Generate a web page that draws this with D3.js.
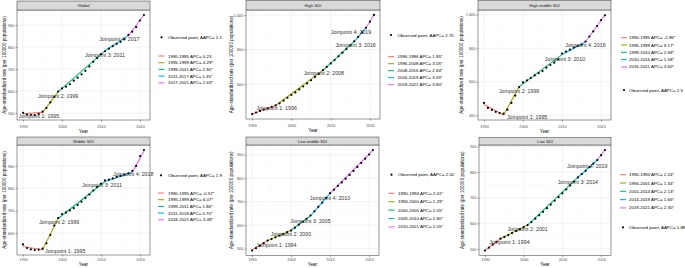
<!DOCTYPE html>
<html>
<head>
<meta charset="utf-8">
<script src="https://cdn.jsdelivr.net/npm/d3@7"></script>
<style>
body { margin: 0; background: #fff; }
svg { display: block; }
svg text { font-family: "Liberation Sans", Arial, sans-serif; }
</style>
</head>
<body>
<svg id="chart" width="685" height="268"></svg>
<script>
// ---- data ----
var years = [1990, 1991, 1992, 1993, 1994, 1995, 1996, 1997, 1998, 1999, 2000, 2001, 2002, 2003, 2004, 2005,
             2006, 2007, 2008, 2009, 2010, 2011, 2012, 2013, 2014, 2015, 2016, 2017, 2018, 2019, 2020, 2021];
var panelNames = ['Global', 'High SDI', 'High-middle SDI', 'Middle SDI', 'Low-middle SDI', 'Low SDI'];
var aapc = ['2.1', '2.75', '2.5', '1.9', '2.02', '1.88'];

var obsGlobal = [501, 493, 492, 491, 496, 506, 523, 548, 574, 598, 612, 620, 631, 647, 661, 676,
                 692, 712, 733, 750, 768, 781, 793, 804, 815, 824, 836, 856, 870, 891, 921, 946];
var obsHigh = [428, 437, 446, 454, 461, 469, 478, 490, 506, 522, 538, 553, 570, 587, 605, 623,
               642, 660, 681, 700, 720, 740, 761, 782, 803, 825, 848, 873, 900, 926, 962, 1000];
var obsHighMiddle = [474, 444, 432, 421, 414, 410, 434, 474, 518, 568, 596, 608, 622, 638, 652, 664,
                     684, 700, 714, 734, 768, 780, 792, 804, 814, 822, 840, 870, 900, 932, 968, 996];
var obsMiddle = [549, 533, 527, 524, 526, 530, 554, 591, 633, 667, 685, 692, 701, 711, 725, 740,
                 756, 772, 790, 806, 821, 835, 839, 844, 851, 855, 861, 867, 878, 900, 944, 971];
var obsLowMiddle = [492, 502, 512, 523, 534, 541, 548, 555, 562, 570, 577, 589, 602, 614, 627, 641,
                    659, 678, 696, 716, 736, 751, 767, 782, 798, 814, 831, 848, 865, 883, 901, 920];
var obsLow = [494, 505, 517, 528, 540, 547, 554, 562, 570, 577, 585, 593, 605, 618, 631, 645,
              659, 673, 688, 702, 717, 732, 748, 763, 779, 792, 805, 819, 833, 847, 866, 886];

// segment end years and fitted values at them
var segGlobal = [1990, 1995, 1999, 2011, 2017, 2021];
var fitGlobal = [497, 503, 596, 783, 852, 946];
var segHigh = [1990, 1996, 2008, 2016, 2019, 2021];
var fitHigh = [428, 477, 680, 848, 926, 1000];
var segHighMiddle = [1990, 1995, 1999, 2010, 2016, 2021];
var fitHighMiddle = [465, 402, 571, 762, 837, 998];
var segMiddle = [1990, 1995, 1999, 2011, 2018, 2021];
var fitMiddle = [540, 525, 665, 830, 871, 966];
var segLowMiddle = [1990, 1994, 2000, 2005, 2010, 2021];
var fitLowMiddle = [494, 535, 578, 640, 735, 919];
var segLow = [1990, 1994, 2001, 2014, 2019, 2021];
var fitLow = [494, 540, 593, 779, 847, 886];

var apcGlobal = ['0.23', '4.29*', '2.30*', '1.45*', '2.63*'];
var apcHigh = ['1.85*', '3.05*', '2.84*', '3.05*', '3.80*'];
var apcHighMiddle = ['-2.86*', '9.17*', '2.68*', '1.58*', '3.60*'];
var apcMiddle = ['-0.57*', '6.07*', '1.86*', '0.70*', '3.48*'];
var apcLowMiddle = ['2.01*', '1.29*', '2.05*', '2.80*', '2.05*'];
var apcLow = ['2.24*', '1.34*', '2.13*', '1.66*', '2.30*'];

var yTicksGlobal = [500, 600, 700, 800, 900];
var yTicksHigh = [600, 800, 1000];
var yTicksHighMiddle = [400, 600, 800, 1000];
var yTicksMiddle = [600, 700, 800, 900];
var yTicksLowMiddle = [500, 600, 700, 800, 900];
var yTicksLow = [500, 600, 700, 800, 900];
var xTicks = [1990, 2000, 2010, 2020];

var segColors = ['#F8766D', '#A3A500', '#00BF7D', '#00B0F6', '#E76BF3'];

var panels = [
  {obs: obsGlobal, seg: segGlobal, fit: fitGlobal, apc: apcGlobal, ticks: yTicksGlobal},
  {obs: obsHigh, seg: segHigh, fit: fitHigh, apc: apcHigh, ticks: yTicksHigh},
  {obs: obsHighMiddle, seg: segHighMiddle, fit: fitHighMiddle, apc: apcHighMiddle, ticks: yTicksHighMiddle},
  {obs: obsMiddle, seg: segMiddle, fit: fitMiddle, apc: apcMiddle, ticks: yTicksMiddle},
  {obs: obsLowMiddle, seg: segLowMiddle, fit: fitLowMiddle, apc: apcLowMiddle, ticks: yTicksLowMiddle},
  {obs: obsLow, seg: segLow, fit: fitLow, apc: apcLow, ticks: yTicksLow}
];

// ---- layout of each small plot (pixels) ----
// tp: tick label padding, yt: distance of "Year" below the panel
var layout = [
  {x0: 17, x1: 150, st: 1, y0: 10, y1: 120, tp: 3.4, yt: 11.6, tx: 4, kx: 161.5, lx: 168, obsY: 37.3, iy: 56, idy: 6.7,
   off: [[-3.5, 4], [0, 4.5], [0, 4], [-9, 3.5]]},
  {x0: 246, x1: 380, st: 0.5, y0: 10, y1: 119, tp: 3.4, yt: 11.6, tx: 231, kx: 391, lx: 397.5, obsY: 35, iy: 56.7, idy: 7,
   off: [[1, 2.5], [1, 2.5], [1.4, 4], [-15, 4.6]]},
  {x0: 478, x1: 611, st: 0.5, y0: 10, y1: 120, tp: 3.4, yt: 11.6, tx: 461, kx: 624, lx: 629, obsY: 90, iy: 37.7, idy: 7.3,
   off: [[23.6, 2.3], [0, 4.5], [3, 4], [0, 3]]},
  {x0: 17, x1: 150, st: 137, y0: 145, y1: 255, tp: 1.8, yt: 9.6, tx: 4, kx: 161, lx: 168, obsY: 175.3, iy: 193, idy: 6.7,
   off: [[22.7, 1.5], [1, 4], [-3, 3.7], [1, 1.5]]},
  {x0: 246, x1: 379, st: 137, y0: 145, y1: 255.5, tp: 1.8, yt: 9.4, tx: 231, kx: 391.5, lx: 398, obsY: 174.7, iy: 193.3, idy: 8.4,
   off: [[8.7, 5], [0, 3.6], [0, 5], [0, 5]]},
  {x0: 479, x1: 611, st: 137.5, y0: 145, y1: 255.5, tp: 1.8, yt: 9.4, tx: 462, kx: 623, lx: 629, obsY: 227.3, iy: 174.7, idy: 8.3,
   off: [[9, 3.5], [0, 4], [0, 5], [-10, 6]]}
];

var svg = d3.select('#chart');

panels.forEach(function(p, i) {
  var L = layout[i];
  var g = svg.append('g');

  var x = d3.scaleLinear().domain([1988.45, 2022.55]).range([L.x0, L.x1]);
  var all = p.obs.concat(p.fit);
  var lo = d3.min(all), hi = d3.max(all), pad = (hi - lo) * 0.05;
  var y = d3.scaleLinear().domain([lo - pad, hi + pad]).range([L.y1, L.y0]);

  // grid
  var step = p.ticks[1] - p.ticks[0];
  var yMinor = p.ticks.map(d => d - step / 2).concat([p.ticks[p.ticks.length - 1] + step / 2])
    .filter(d => d > y.domain()[0] && d < y.domain()[1]);
  var xMinor = [1995, 2005, 2015];
  g.selectAll('.xminor').data(xMinor).enter().append('line')
    .attr('x1', d => x(d)).attr('x2', d => x(d)).attr('y1', L.y0).attr('y2', L.y1)
    .attr('stroke', '#F2F2F2').attr('stroke-width', 0.3);
  g.selectAll('.yminor').data(yMinor).enter().append('line')
    .attr('x1', L.x0).attr('x2', L.x1).attr('y1', d => y(d)).attr('y2', d => y(d))
    .attr('stroke', '#F2F2F2').attr('stroke-width', 0.3);
  g.selectAll('.xmajor').data(xTicks).enter().append('line')
    .attr('x1', d => x(d)).attr('x2', d => x(d)).attr('y1', L.y0).attr('y2', L.y1)
    .attr('stroke', '#EBEBEB').attr('stroke-width', 0.6);
  g.selectAll('.ymajor').data(p.ticks).enter().append('line')
    .attr('x1', L.x0).attr('x2', L.x1).attr('y1', d => y(d)).attr('y2', d => y(d))
    .attr('stroke', '#EBEBEB').attr('stroke-width', 0.6);

  // fitted joinpoint segments
  for (var k = 0; k < p.seg.length - 1; k++) {
    g.append('line')
      .attr('x1', x(p.seg[k])).attr('y1', y(p.fit[k]))
      .attr('x2', x(p.seg[k + 1])).attr('y2', y(p.fit[k + 1]))
      .attr('stroke', segColors[k]).attr('stroke-width', 1.1);
  }

  // observed points
  g.selectAll('circle.obs').data(p.obs).enter().append('circle')
    .attr('cx', (d, j) => x(years[j])).attr('cy', d => y(d))
    .attr('r', 1.1).attr('fill', '#000');

  // joinpoint labels
  for (var k = 1; k < p.seg.length - 1; k++) {
    var o = L.off[k - 1];
    g.append('text')
      .attr('x', x(p.seg[k]) + o[0]).attr('y', y(p.fit[k]) + o[1])
      .attr('text-anchor', 'middle').attr('dominant-baseline', 'central')
      .attr('font-size', 5.3).attr('fill', '#333')
      .text('Joinpoint ' + k + ': ' + p.seg[k]);
  }

  // panel border and strip
  g.append('rect').attr('x', L.x0).attr('y', L.y0).attr('width', L.x1 - L.x0).attr('height', L.y1 - L.y0)
    .attr('fill', 'none').attr('stroke', '#333').attr('stroke-width', 0.5);
  g.append('rect').attr('x', L.x0).attr('y', L.st).attr('width', L.x1 - L.x0).attr('height', L.y0 - L.st)
    .attr('fill', '#D9D9D9').attr('stroke', '#333').attr('stroke-width', 0.5);
  g.append('text').attr('x', (L.x0 + L.x1) / 2).attr('y', (L.st + L.y0) / 2)
    .attr('text-anchor', 'middle').attr('dominant-baseline', 'central')
    .attr('font-size', 4.2).attr('fill', '#1A1A1A').text(panelNames[i]);

  // axes
  var ax = g.append('g').attr('transform', 'translate(0,' + L.y1 + ')')
    .call(d3.axisBottom(x).tickValues(xTicks).tickFormat(d3.format('d')).tickSize(1.5).tickPadding(L.tp));
  var ay = g.append('g').attr('transform', 'translate(' + L.x0 + ',0)')
    .call(d3.axisLeft(y).tickValues(p.ticks).tickSize(1.5).tickPadding(1.2));
  [ax, ay].forEach(function(a) {
    a.attr('font-family', null);
    a.select('.domain').remove();
    a.selectAll('line').attr('stroke', '#333').attr('stroke-width', 0.5);
    a.selectAll('text').attr('font-size', 3.8).attr('fill', '#4D4D4D');
  });

  g.append('text').attr('x', (L.x0 + L.x1) / 2).attr('y', L.y1 + L.yt)
    .attr('text-anchor', 'middle').attr('dominant-baseline', 'central')
    .attr('font-size', 4.6).text('Year');
  g.append('text')
    .attr('transform', 'translate(' + L.tx + ',' + (L.y0 + L.y1) / 2 + ') rotate(-90)')
    .attr('text-anchor', 'middle').attr('dominant-baseline', 'central')
    .attr('font-size', 4.6).text('Age-standardized rate (per 100000 populations)');

  // legend
  g.append('circle').attr('cx', L.kx).attr('cy', L.obsY).attr('r', 1.1).attr('fill', '#000');
  g.append('text').attr('x', L.lx).attr('y', L.obsY).attr('dominant-baseline', 'central')
    .attr('font-size', 4.4).text('Observed point, AAPC= ' + aapc[i]);
  p.apc.forEach(function(a, k) {
    var yy = L.iy + k * L.idy;
    g.append('line').attr('x1', L.kx - 3).attr('x2', L.kx + 3).attr('y1', yy).attr('y2', yy)
      .attr('stroke', segColors[k]).attr('stroke-width', 1.1);
    g.append('text').attr('x', L.lx).attr('y', yy).attr('dominant-baseline', 'central')
      .attr('font-size', 4.4).text(p.seg[k] + '-' + p.seg[k + 1] + ' APC= ' + a);
  });
});
</script>
</body>
</html>
